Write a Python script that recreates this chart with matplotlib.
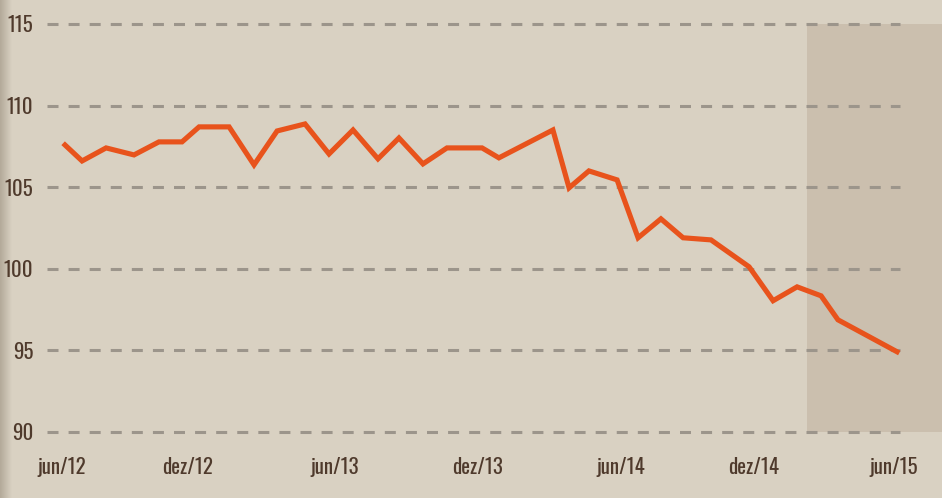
import numpy as np
import matplotlib
matplotlib.use("Agg")
import matplotlib.pyplot as plt
from matplotlib.colors import LinearSegmentedColormap

# ---- data ----
months = [0.0, 0.74, 1.78, 2.99, 4.07, 5.07, 5.81, 7.11, 8.19, 9.19, 10.40,
          11.44, 12.48, 13.56, 14.47, 15.51, 16.55, 18.07, 18.80, 21.14, 21.84,
          22.70, 23.92, 24.83, 25.82, 26.78, 27.99, 29.64, 30.68, 31.72, 32.76,
          33.49, 36.05]
values = [107.58, 106.60, 107.40, 106.97, 107.77, 107.77, 108.69, 108.69, 106.36,
          108.44, 108.87, 107.03, 108.50, 106.73, 108.01, 106.42, 107.40, 107.40,
          106.79, 108.50, 104.95, 105.99, 105.44, 101.89, 103.05, 101.89, 101.76,
          100.11, 98.03, 98.88, 98.33, 96.86, 94.90]
x_tick_pos = [-0.13, 5.33, 11.70, 17.89, 24.09, 29.85, 35.92]
x_tick_labels = ["jun/12", "dez/12", "jun/13", "dez/13", "jun/14", "dez/14", "jun/15"]
y_ticks = [90, 95, 100, 105, 110, 115]
shade_start = 32.15

# ---- style ----
BG = "#d9d1c2"
SHADE = "#cbbfae"
GRID = "#9c958b"
LINE = "#e8531c"
TEXT = "#4f3a2c"

plt.rcParams["font.family"] = ["Oswald", "Antonio", "Barlow Condensed", "DejaVu Sans"]

fig = plt.figure(figsize=(9.42, 4.98), dpi=100, facecolor=BG)
W, H = 942, 498

# left shadow gradient
sax = fig.add_axes([0, 0, 12 / W, 1])
grad = np.linspace(0, 1, 64)[None, :]
cmap = LinearSegmentedColormap.from_list("sh", ["#b3a999", BG])
sax.imshow(grad, aspect="auto", cmap=cmap, extent=[0, 1, 0, 1])
sax.axis("off")

left_px, right_px = 47, 942
top_px, bot_px = 15, 440
ax = fig.add_axes([left_px / W, (H - bot_px) / H, (right_px - left_px) / W, (bot_px - top_px) / H])
ax.set_facecolor("none")

px_per_month = 23.08
def m_of(px):
    return (px - 65) / px_per_month

ax.set_xlim(m_of(left_px), m_of(right_px))
ax.set_ylim(89.49, 115.55)

ax.fill_between([shade_start, m_of(right_px)], 90, 115, color=SHADE, lw=0, zorder=1)

ax.hlines(y_ticks, m_of(left_px), m_of(900), colors=GRID, linestyles=(0, (3.6, 3.3)),
          linewidth=2.2, zorder=2)

ax.plot(months, values, color=LINE, linewidth=3.7, solid_joinstyle="miter", zorder=3)

for s in ax.spines.values():
    s.set_visible(False)

ax.set_yticks(y_ticks)
ax.set_yticklabels([str(v) for v in y_ticks])
ax.set_xticks(x_tick_pos)
ax.set_xticklabels(x_tick_labels)
ax.tick_params(axis="both", length=0, colors=TEXT, labelsize=15)
ax.tick_params(axis="y", pad=10)
ax.tick_params(axis="x", pad=12)

fig.savefig("out.png", dpi=100, facecolor=BG)
